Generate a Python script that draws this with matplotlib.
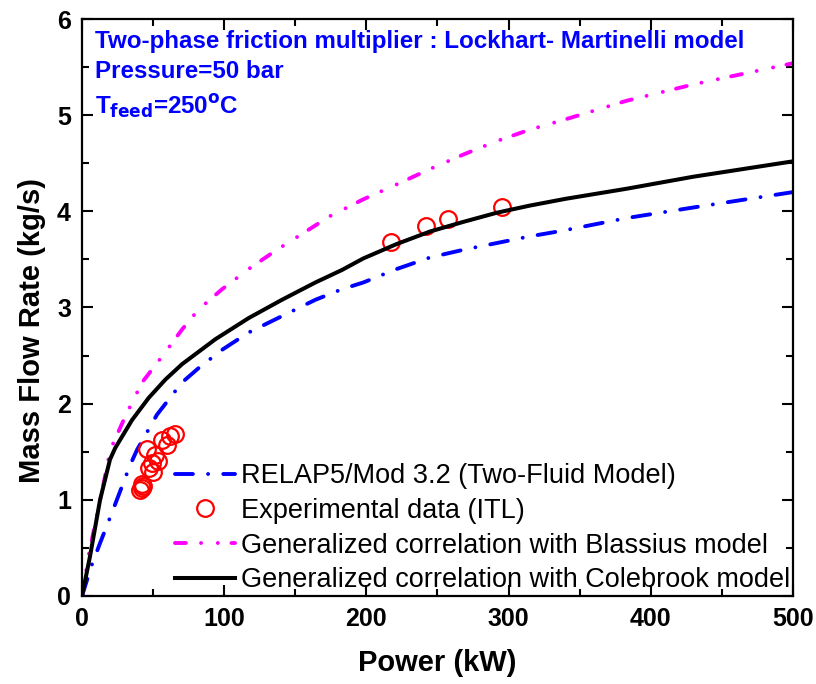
import matplotlib
matplotlib.use("Agg")
import matplotlib.pyplot as plt
from matplotlib.ticker import MultipleLocator

plt.rcParams['font.family'] = ['Liberation Sans', 'DejaVu Sans']

# RELAP5 curve
relap_x = [0, 6.8, 12.7, 20.9, 33.8, 38.7, 52.7, 70.3, 82.0, 98.5, 117.2, 140.6, 164.1, 182.8,
           197.8, 221.3, 244.7, 268.1, 291.6, 315, 338.5, 383, 429.9, 500]
relap_y = [0, 0.32, 0.55, 0.86, 1.36, 1.52, 1.885, 2.22, 2.37, 2.56, 2.74, 2.91, 3.08, 3.19,
           3.26, 3.40, 3.52, 3.60, 3.67, 3.74, 3.80, 3.93, 4.04, 4.20]

# Blassius correlation
blas_x = [0, 5, 14.8, 19.9, 30.5, 42.2, 56.3, 70.3, 82.0, 98.5, 117.2, 136, 174.4, 197.8,
          221.3, 244.7, 268.1, 291.6, 315, 338.5, 383, 429.9, 500]
blas_y = [0, 0.45, 1.14, 1.52, 1.87, 2.22, 2.49, 2.77, 2.98, 3.19, 3.40, 3.59, 3.95, 4.125,
          4.28, 4.44, 4.59, 4.73, 4.85, 4.95, 5.15, 5.32, 5.54]

# Colebrook correlation
cole_x = [0, 5.6, 12.7, 19.7, 23.4, 35.2, 46.9, 58.6, 70.3, 93.8, 117.2, 140.6, 164.1, 182.8,
          197.8, 221.3, 244.7, 268.1, 291.6, 315, 340, 383, 429.9, 500]
cole_y = [0, 0.41, 1.0, 1.42, 1.54, 1.83, 2.06, 2.25, 2.41, 2.67, 2.89, 3.08, 3.26, 3.39,
          3.51, 3.66, 3.79, 3.89, 3.985, 4.06, 4.13, 4.235, 4.36, 4.52]

# experimental data (ITL)
exp_x = [40.8, 42, 42, 43, 45.5, 47, 49, 50.2, 51.3, 53.7, 56, 59.5, 61.9, 65.4, 217.3, 241.9, 257.4, 295.4]
exp_y = [1.10, 1.12, 1.16, 1.14, 1.53, 1.33, 1.38, 1.29, 1.47, 1.40, 1.62, 1.57, 1.66, 1.68, 3.68, 3.85, 3.92, 4.05]

fig = plt.figure(figsize=(8.16, 6.84), dpi=100)
ax = fig.add_axes([0.1005, 0.1287, 0.8713, 0.8435])

ax.plot(relap_x, relap_y, color='blue', lw=2.8, dashes=(4.6, 3.9, 0.01, 3.9),
        dash_capstyle='round', label='RELAP5/Mod 3.2 (Two-Fluid Model)')
ax.plot(exp_x, exp_y, 'o', mfc='none', mec='red', mew=1.6, ms=12,
        label='Experimental data (ITL)')
ax.plot(blas_x, blas_y, color='magenta', lw=2.8, dashes=(2.8, 3.9, 0.01, 4.3, 0.01, 3.5),
        dash_capstyle='round', label='Generalized correlation with Blassius model')
ax.plot(cole_x, cole_y, color='black', lw=2.9,
        label='Generalized correlation with Colebrook model')

ax.set_xlim(0, 500)
ax.set_ylim(0, 6)
ax.xaxis.set_major_locator(MultipleLocator(100))
ax.xaxis.set_minor_locator(MultipleLocator(50))
ax.yaxis.set_major_locator(MultipleLocator(1))
ax.yaxis.set_minor_locator(MultipleLocator(0.5))
ax.tick_params(which='both', direction='in', top=True, right=True, width=1.5)
ax.tick_params(which='major', length=8, labelsize=18, pad=8)
ax.tick_params(which='minor', length=5)
for lbl in ax.get_xticklabels() + ax.get_yticklabels():
    lbl.set_fontweight('bold')
for s in ax.spines.values():
    s.set_linewidth(1.6)

ax.set_xlabel('Power (kW)', fontsize=21, fontweight='bold', labelpad=13)
ax.set_ylabel('Mass Flow Rate (kg/s)', fontsize=21, fontweight='bold')
ax.yaxis.set_label_coords(-0.05, 0.46)

ax.text(0.018, 0.949, 'Two-phase friction multiplier : Lockhart- Martinelli model',
        transform=ax.transAxes, color='blue', fontsize=17.4, fontweight='bold', va='baseline')
ax.text(0.018, 0.897, 'Pressure=50 bar',
        transform=ax.transAxes, color='blue', fontsize=17.4, fontweight='bold', va='baseline')
ax.text(0.018, 0.834, r'T$_{\mathbf{feed}}$=250$^{\mathbf{o}}$C',
        transform=ax.transAxes, color='blue', fontsize=17.4, fontweight='bold', va='baseline')

ax.legend(loc='lower right', bbox_to_anchor=(1.0, 0.0), frameon=False, fontsize=19.5,
          handlelength=2.2, handletextpad=0.22, labelspacing=0.32, borderaxespad=0.0,
          borderpad=0.1)

fig.savefig('out.png', dpi=100)
